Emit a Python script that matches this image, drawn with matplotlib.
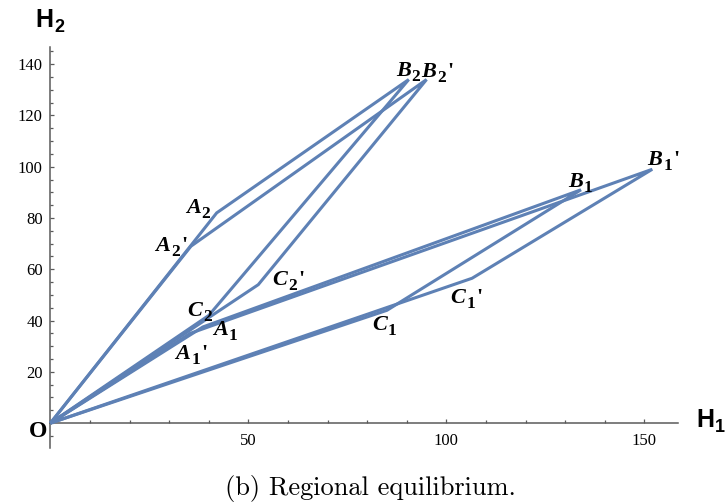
import matplotlib
matplotlib.use("Agg")
import matplotlib.pyplot as plt
from matplotlib.ticker import MultipleLocator, FixedLocator

# Vertices of the four equilibrium regions, as (H1, H2)
origin = (0.0, 0.0)
region1 = {"A": (38.5, 37.5), "B": (134.0, 91.0), "C": (85.0, 44.0)}
region1p = {"A": (35.3, 35.0), "B": (152.0, 99.0), "C": (106.5, 56.5)}
region2 = {"A": (42.0, 82.0), "B": (90.5, 134.0), "C": (40.0, 42.0)}
region2p = {"A": (35.5, 69.0), "B": (95.0, 134.0), "C": (52.5, 54.0)}

x_major = [50, 100, 150]
y_major = [20, 40, 60, 80, 100, 120, 140]

LINE = "#5E81B5"
AXIS = "#5a5a5a"
SERIF = "Liberation Serif"
SANS = "Liberation Sans"

W, H = 725, 504
fig = plt.figure(figsize=(W / 100, H / 100), dpi=100)
x0_px, x1_px = 50.4, 678.0
ytop_px, ybot_px = 46.7, 448.0
ax = fig.add_axes([x0_px / W, (H - ybot_px) / H,
                   (x1_px - x0_px) / W, (ybot_px - ytop_px) / H])
ax.set_xlim(0, 158.5)
ax.set_ylim(-9.7, 146.8)

for reg in (region1, region1p, region2, region2p):
    pts = [origin, reg["A"], reg["B"], reg["C"], origin]
    ax.plot([p[0] for p in pts], [p[1] for p in pts], color=LINE,
            lw=2.2, solid_joinstyle="miter", solid_capstyle="butt",
            clip_on=False, zorder=3)

# axes through the origin
for s in ("top", "right"):
    ax.spines[s].set_visible(False)
ax.spines["left"].set_position(("data", 0))
ax.spines["bottom"].set_position(("data", 0))
for s in ("left", "bottom"):
    ax.spines[s].set_color(AXIS)
    ax.spines[s].set_linewidth(1.1)

ax.xaxis.set_major_locator(FixedLocator(x_major))
ax.xaxis.set_minor_locator(MultipleLocator(10))
ax.yaxis.set_major_locator(FixedLocator(y_major))
ax.yaxis.set_minor_locator(MultipleLocator(5))
ax.set_xticklabels([str(v) for v in x_major])
ax.set_yticklabels([str(v) for v in y_major])
ax.tick_params(which="both", direction="in", color=AXIS, width=0.9)
ax.tick_params(which="major", length=3.2)
ax.tick_params(which="minor", length=2.0)
ax.tick_params(axis="x", which="major", pad=7)
ax.tick_params(axis="y", which="major", pad=5.5)
for lab in ax.get_xticklabels() + ax.get_yticklabels():
    lab.set_fontfamily(SERIF)
    lab.set_fontsize(12)


def subscripted(xy, letter, sub, prime, off, coords="data",
                family=SERIF, style="italic", size=16, sub_size=12.5,
                drop=5, sub_w=9):
    """Letter with a subscript digit (and optional prime); `off` is the
    baseline point between letter and subscript, in pixels from `xy`."""
    kw = dict(xy=xy, xycoords=coords, textcoords="offset pixels",
              va="baseline", family=family, fontweight="bold", zorder=5,
              annotation_clip=False)
    ax.annotate(letter, xytext=off, ha="right", fontsize=size,
                fontstyle=style, **kw)
    ax.annotate(sub, xytext=(off[0] + 1, off[1] - drop), ha="left",
                fontsize=sub_size, **kw)
    if prime:
        ax.annotate("'", xytext=(off[0] + sub_w + 2, off[1]), ha="left",
                    fontsize=size, **kw)


# vertex labels
subscripted(region2["A"], "A", "2", False, (-16, 0))
subscripted(region2p["A"], "A", "2", True, (-21, -5))
subscripted(region2["B"], "B", "2", False, (2, 4))
subscripted(region2p["B"], "B", "2", True, (10, 3))
subscripted(region2["C"], "C", "2", False, (-7, -1))
subscripted(region2p["C"], "C", "2", True, (29, 0))
subscripted(region1["A"], "A", "1", False, (25, -8))
subscripted(region1p["A"], "A", "1", True, (0, -26))
subscripted(region1["C"], "C", "1", False, (0, -20))
subscripted(region1p["C"], "C", "1", True, (-7, -25))
subscripted(region1["B"], "B", "1", False, (2, 3))
subscripted(region1p["B"], "B", "1", True, (10, 4))

ax.annotate("O", xy=origin, xytext=(-12, -8), textcoords="offset pixels",
            ha="center", va="center", fontsize=17, family=SERIF,
            fontweight="bold", annotation_clip=False)

# axis names
subscripted((53, H - 27), "H", "2", False, (0, 0), coords="figure pixels",
            family=SANS, style="normal", size=18, sub_size=13, drop=5)
subscripted((714, H - 427), "H", "1", False, (0, 0), coords="figure pixels",
            family=SANS, style="normal", size=18, sub_size=13, drop=5)

fig.text(370 / W, 1 - 488 / H, "(b) Regional equilibrium.", ha="center",
         va="center", fontsize=19, family="cmr10")

fig.savefig("out.png", dpi=100)
